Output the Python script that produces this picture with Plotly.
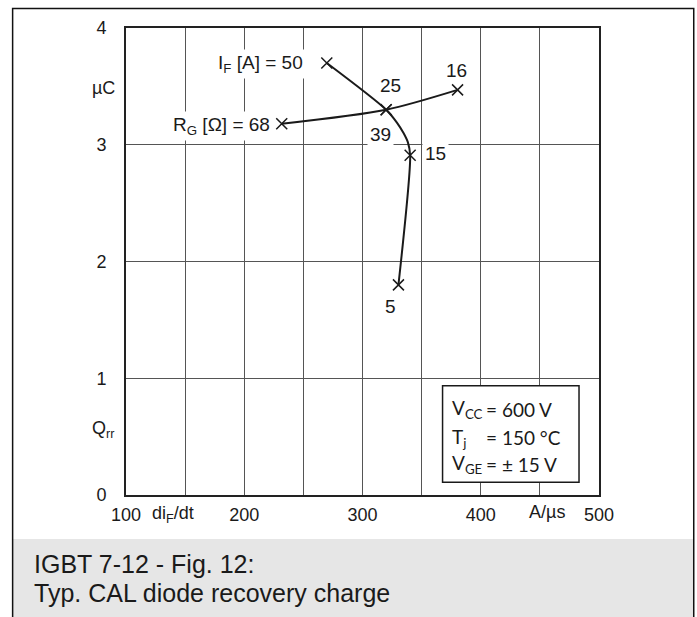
import plotly.graph_objects as go

# ---- data ----
# I_F curve (R_G fixed), path points along the drawn curve
if_curve_x = [269.8, 320.0, 329.1, 334.7, 338.4, 340.3, 330.4]
if_curve_y = [3.70, 3.30, 3.19, 3.10, 3.02, 2.91, 1.80]
# labelled I_F points: 50, 25, 15, 5 A
if_pts_x = [269.8, 320.0, 340.3, 330.4]
if_pts_y = [3.70, 3.30, 2.91, 1.80]
if_labels = ["I<sub>F</sub> [A] = 50", "25", "15", "5"]

# R_G curve: 68, 39, 16 Ohm
rg_x = [231.7, 320.0, 380.4]
rg_y = [3.18, 3.30, 3.47]
rg_labels = ["R<sub>G</sub> [Ω] = 68", "39", "16"]

x_ticks = [100, 150, 200, 250, 300, 350, 400, 450, 500]
x_ticktext = ["100", "", "200", "", "300", "", "400", "", "500"]
y_ticks = [0, 1, 2, 3, 4]
y_ticktext = ["0", "1", "2", "3", "4"]

cond_names = ["V<sub>CC</sub>", "T<sub>j</sub>", "V<sub>GE</sub>"]
cond_values = ["= 600 V", "= 150 °C", "= ± 15 V"]

caption = ["IGBT 7-12 - Fig. 12:", "Typ. CAL diode recovery charge"]

FONT = "Liberation Sans, Arial, sans-serif"
CFONT = "Lato, Open Sans, sans-serif"
LINE = "#1a1a1a"

fig = go.Figure()
fig.add_trace(go.Scatter(x=if_curve_x, y=if_curve_y, mode="lines",
                         line=dict(color=LINE, width=2, shape="spline", smoothing=0.8),
                         hoverinfo="skip"))
fig.add_trace(go.Scatter(x=rg_x, y=rg_y, mode="lines",
                         line=dict(color=LINE, width=2, shape="spline", smoothing=0.8),
                         hoverinfo="skip"))
fig.add_trace(go.Scatter(x=if_pts_x + rg_x, y=if_pts_y + rg_y, mode="markers",
                         marker=dict(symbol="x-thin", size=11, color=LINE,
                                     line=dict(color=LINE, width=1.5)),
                         hoverinfo="skip"))

ann = []
def lab(text, x, y, xanchor="center", bg=None, size=19):
    d = dict(text=text, x=x, y=y, xref="x", yref="y", showarrow=False,
             xanchor=xanchor, yanchor="middle",
             font=dict(family=FONT, size=size, color="#1a1a1a"), borderpad=2)
    if bg:
        d["bgcolor"] = bg
    ann.append(d)

# curve labels (positions set relative to the marks)
lab(if_labels[0], 252.5, 3.69, "right", "white")
lab(if_labels[1], 323.4, 3.507)
lab(if_labels[2], 361.6, 2.924, "center", "white")
lab(if_labels[3], 323.4, 1.612)
lab(rg_labels[0], 224.5, 3.163, "right", "white")
lab(rg_labels[1], 314.9, 3.087, "center", "white")
lab(rg_labels[2], 379.8, 3.638)

# axis unit / name labels
def plain(text, x, y, xref="x", yref="y", xanchor="center", size=18):
    ann.append(dict(text=text, x=x, y=y, xref=xref, yref=yref, showarrow=False,
                    xanchor=xanchor, yanchor="middle",
                    font=dict(family=FONT, size=size, color="#1a1a1a")))

plain("di<sub>F</sub>/dt", 139.5, -0.042, "x", "paper")
plain("A/µs", 456.0, -0.036, "x", "paper")
plain("µC", -0.048, 3.49, "paper", "y")
plain("Q<sub>rr</sub>", -0.049, 0.56, "paper", "y")

# conditions box text
cond_y = [0.735, 0.49, 0.262]
for name, val, yy in zip(cond_names, cond_values, cond_y):
    ann.append(dict(text=name, x=374.0, y=yy, xref="x", yref="y", showarrow=False,
                    xanchor="left", yanchor="middle",
                    font=dict(family=CFONT, size=19, color="#1a1a1a")))
    ann.append(dict(text=val, x=402.5, y=yy, xref="x", yref="y", showarrow=False,
                    xanchor="left", yanchor="middle",
                    font=dict(family=CFONT, size=19, color="#1a1a1a")))

# caption
for i, line in enumerate(caption):
    ann.append(dict(text=line, x=-0.199, y=[-0.148, -0.209][i], xref="paper", yref="paper",
                    showarrow=False, xanchor="left", yanchor="middle",
                    font=dict(family=FONT, size=25, color="#1a1a1a")))

shapes = [
    # caption grey band
    dict(type="rect", xref="paper", yref="paper", x0=-0.2397, x1=1.2003, y0=-0.27, y1=-0.0943,
         fillcolor="#e6e6e6", line=dict(width=0), layer="below"),
    # outer frame
    dict(type="rect", xref="paper", yref="paper", x0=-0.2397, x1=1.2003, y0=-0.27, y1=1.0418,
         line=dict(color="#111", width=1.5), fillcolor="rgba(0,0,0,0)", layer="above"),
    # conditions box
    dict(type="rect", xref="x", yref="y", x0=367.7, x1=483.1, y0=0.109, y1=0.935,
         fillcolor="white", line=dict(color="#1a1a1a", width=1.5), layer="above"),
]

fig.update_layout(
    width=697, height=617,
    margin=dict(l=126, r=98, t=28, b=122),
    paper_bgcolor="white", plot_bgcolor="white",
    showlegend=False,
    annotations=ann, shapes=shapes,
    font=dict(family=FONT, size=18, color="#1a1a1a"),
)
fig.update_xaxes(range=[100, 500], tickvals=x_ticks, ticktext=x_ticktext,
                 showgrid=True, gridcolor="#555", gridwidth=1,
                 showline=True, linecolor="#222", linewidth=2, mirror=True,
                 ticks="", ticklabelstandoff=2, zeroline=False,
                 tickfont=dict(family=FONT, size=18, color="#1a1a1a"))
fig.update_yaxes(range=[0, 4], tickvals=y_ticks, ticktext=y_ticktext,
                 showgrid=True, gridcolor="#555", gridwidth=1,
                 showline=True, linecolor="#222", linewidth=2, mirror=True,
                 ticks="", ticklabelstandoff=14, zeroline=False,
                 tickfont=dict(family=FONT, size=18, color="#1a1a1a"))

fig.write_html("out.html")
